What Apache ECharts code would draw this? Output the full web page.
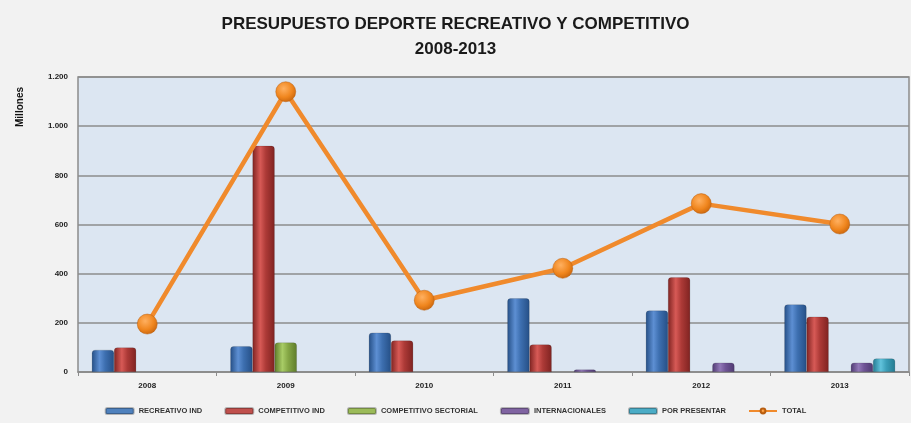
<!DOCTYPE html>
<html>
<head>
<meta charset="utf-8">
<script src="https://cdn.jsdelivr.net/npm/echarts@6/dist/echarts.min.js"></script>
<style>
html,body{margin:0;padding:0;background:#f2f2f2;}
#c{width:911px;height:423px;}
</style>
</head>
<body>
<div id="c"></div>
<script>
var categories = ['2008','2009','2010','2011','2012','2013'];
var recreativoInd = [90, 105, 160, 300, 250, 275];
var competitivoInd = [100, 920, 128, 112, 385, 225];
var competitivoSectorial = [null, 120, null, null, null, null];
var internacionales = [null, null, null, 10, 38, 38];
var porPresentar = [null, null, null, null, null, 55];
var total = [195, 1140, 292, 422, 685, 602];
var yTicks = [0, 200, 400, 600, 800, 1000, 1200];

function grad(dark, mid, light) {
  return new echarts.graphic.LinearGradient(0, 0, 1, 0, [
    {offset: 0, color: dark},
    {offset: 0.35, color: light},
    {offset: 0.6, color: mid},
    {offset: 1, color: dark}
  ]);
}
function barSeries(name, data, dark, mid, light) {
  return {
    name: name, type: 'bar', data: data,
    barGap: '0%', barCategoryGap: '20%',
    itemStyle: {color: grad(dark, mid, light), borderColor: 'rgba(0,0,0,0.25)', borderWidth: 0.5, borderRadius: [3,3,0,0]},
    emphasis: {disabled: true}
  };
}
var chart = echarts.init(document.getElementById('c'));
chart.setOption({
  backgroundColor: '#f2f2f2',
  animation: false,
  color: ['#4f81bd', '#c0504d', '#9bbb59', '#8064a2', '#4bacc6', '#f79646'],
  title: {
    text: 'PRESUPUESTO DEPORTE RECREATIVO Y COMPETITIVO\n2008-2013',
    left: 'center', top: 7,
    textStyle: {fontFamily: 'Liberation Sans', fontWeight: 'bold', fontSize: 17, color: '#1a1a1a', lineHeight: 25}
  },
  graphic: [{
    type: 'text', x: 20, y: 107, rotation: Math.PI / 2,
    style: {text: 'Millones', font: 'bold 10px "Liberation Sans"', fill: '#111', align: 'center', verticalAlign: 'middle'}
  }],
  legend: {
    bottom: 3, left: 'center',
    itemWidth: 28, itemHeight: 6, itemGap: 22,
    textStyle: {fontSize: 7.5, fontWeight: 'bold', color: '#333', fontFamily: 'Liberation Sans'},
    data: [
      {name: 'RECREATIVO IND', itemStyle: {color: '#4f81bd'}},
      {name: 'COMPETITIVO IND', itemStyle: {color: '#c0504d'}},
      {name: 'COMPETITIVO SECTORIAL', itemStyle: {color: '#9bbb59'}},
      {name: 'INTERNACIONALES', itemStyle: {color: '#8064a2'}},
      {name: 'POR PRESENTAR', itemStyle: {color: '#4bacc6'}},
      {name: 'TOTAL'}
    ]
  },
  grid: {left: 78, right: 2, top: 77, bottom: 51, show: true, backgroundColor: '#dce6f2', borderColor: '#8c8c8c', borderWidth: 1.5},
  xAxis: {
    type: 'category', data: categories,
    axisLine: {lineStyle: {color: '#8c8c8c', width: 1.5}},
    axisTick: {show: true, lineStyle: {color: '#8c8c8c'}, length: 4},
    axisLabel: {fontSize: 8, fontWeight: 'bold', color: '#222', margin: 10}
  },
  yAxis: {
    type: 'value', min: 0, max: 1200, interval: 200,
    axisLine: {show: false},
    axisTick: {show: false},
    splitLine: {lineStyle: {color: '#8c8c8c', width: 1.5}},
    axisLabel: {fontSize: 8, fontWeight: 'bold', color: '#222', margin: 10,
      formatter: function (v) { return yTicks.indexOf(v) >= 0 ? (v >= 1000 ? Math.floor(v/1000) + '.' + String(v % 1000).padStart(3, '0') : String(v)) : ''; }}
  },
  series: [
    barSeries('RECREATIVO IND', recreativoInd, '#254f86', '#3d6fb0', '#5d8fd3'),
    barSeries('COMPETITIVO IND', competitivoInd, '#7f2321', '#ad3a37', '#d75a56'),
    barSeries('COMPETITIVO SECTORIAL', competitivoSectorial, '#5e7c2a', '#86a846', '#a8cc66'),
    barSeries('INTERNACIONALES', internacionales, '#4f3a72', '#6f5496', '#9278b8'),
    barSeries('POR PRESENTAR', porPresentar, '#237a91', '#3b9fb9', '#61c3dc'),
    {
      name: 'TOTAL', type: 'line', data: total,
      lineStyle: {color: '#f08a2c', width: 4.5},
      symbol: 'circle', symbolSize: 20,
      itemStyle: {
        color: new echarts.graphic.RadialGradient(0.4, 0.35, 0.7, [
          {offset: 0, color: '#ffb060'},
          {offset: 0.6, color: '#f0861e'},
          {offset: 1, color: '#c7640c'}
        ]),
        borderColor: '#b85e10', borderWidth: 0.5
      },
      z: 5,
      emphasis: {disabled: true}
    }
  ]
});
</script>
</body>
</html>
